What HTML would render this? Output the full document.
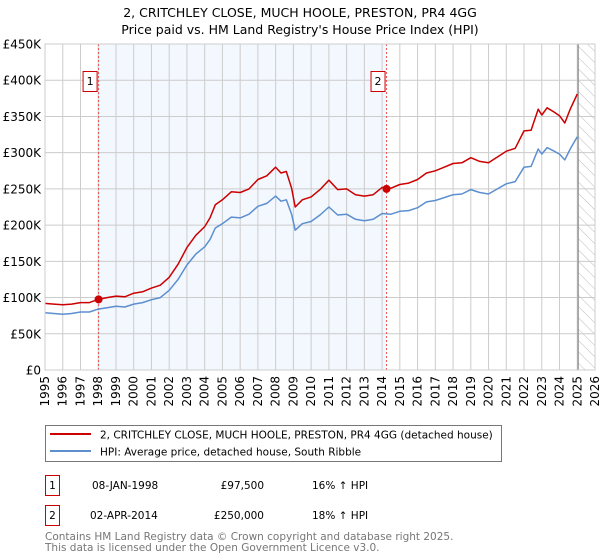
<!DOCTYPE html>
<html><head><meta charset="utf-8"><style>
html,body{margin:0;padding:0;background:#fff}
svg{display:block;font-family:"DejaVu Sans","Liberation Sans",sans-serif}
</style></head><body>
<svg id="chart" width="600" height="560" viewBox="0 0 600 560">
<defs>
<pattern id="hatch" width="8" height="8" patternUnits="userSpaceOnUse" patternTransform="rotate(-45)">
<line x1="0" y1="0" x2="0" y2="8" stroke="#bbb" stroke-width="1"/>
</pattern>
</defs>
<text x="300" y="17" text-anchor="middle" font-size="12.5" fill="#000">2, CRITCHLEY CLOSE, MUCH HOOLE, PRESTON, PR4 4GG</text>
<text x="300" y="34" text-anchor="middle" font-size="12.5" fill="#000">Price paid vs. HM Land Registry's House Price Index (HPI)</text>
<g id="plot"></g>
<g>
<rect x="45.5" y="425.5" width="456" height="36" fill="#fff" stroke="#777"/>
<line x1="50" y1="434" x2="91" y2="434" stroke="#cc0000" stroke-width="2"/>
<text x="100" y="438.5" font-size="10.5">2, CRITCHLEY CLOSE, MUCH HOOLE, PRESTON, PR4 4GG (detached house)</text>
<line x1="50" y1="451" x2="91" y2="451" stroke="#5b8fd0" stroke-width="2"/>
<text x="100" y="455.5" font-size="10.5">HPI: Average price, detached house, South Ribble</text>
</g>
<g font-size="10.5">
<rect x="45.5" y="475.5" width="14" height="20" fill="#fff" stroke="#cc0000"/>
<text x="52.5" y="489" text-anchor="middle">1</text>
<text x="92" y="489">08-JAN-1998</text>
<text x="264" y="489" text-anchor="end">£97,500</text>
<text x="312" y="489">16% ↑ HPI</text>
<rect x="45.5" y="505.5" width="14" height="20" fill="#fff" stroke="#cc0000"/>
<text x="52.5" y="519" text-anchor="middle">2</text>
<text x="90" y="519">02-APR-2014</text>
<text x="264" y="519" text-anchor="end">£250,000</text>
<text x="312" y="519">18% ↑ HPI</text>
</g>
<text x="45" y="540" font-size="10.5" fill="#777">Contains HM Land Registry data © Crown copyright and database right 2025.</text>
<text x="45" y="551" font-size="10.5" fill="#777">This data is licensed under the Open Government Licence v3.0.</text>
</svg>
<script>
const times = [1995,1995.5,1996,1996.5,1997,1997.5,1998,1998.5,1999,1999.5,2000,2000.5,2001,2001.5,2002,2002.5,2003,2003.5,2004,2004.3,2004.6,2005,2005.5,2006,2006.5,2007,2007.5,2008,2008.3,2008.6,2008.9,2009.1,2009.5,2010,2010.5,2011,2011.5,2012,2012.5,2013,2013.5,2014,2014.5,2015,2015.5,2016,2016.5,2017,2017.5,2018,2018.5,2019,2019.5,2020,2020.5,2021,2021.5,2022,2022.4,2022.8,2023,2023.3,2023.7,2024,2024.3,2024.6,2025];
const hpiValues = [79,78,77,78,80,80,84,86,88,87,91,93,97,100,110,125,145,160,170,180,196,202,211,210,215,226,230,240,233,235,215,193,202,205,214,225,214,215,208,206,208,216,215,219,220,224,232,234,238,242,243,249,245,243,250,257,260,280,281,305,298,307,302,298,290,305,322];
const propertyValues = [92,91,90,91,93,93,97.5,100,102,101,106,108,113,117,128,146,169,186,198,210,228,235,246,245,250,263,268,280,272,274,251,225,235,239,249,262,249,250,242,240,242,252,251,256,258,263,272,275,280,285,286,293,288,286,294,302,306,330,331,360,352,362,356,351,341,360,381];
const saleTimes = [1998.02, 2014.25];
const saleValues = [97.5, 250];
const saleLabels = ["1", "2"];
const yTicks = [0,50,100,150,200,250,300,350,400,450];
const yTickLabels = ["£0","£50K","£100K","£150K","£200K","£250K","£300K","£350K","£400K","£450K"];
const xTicks = [1995,1996,1997,1998,1999,2000,2001,2002,2003,2004,2005,2006,2007,2008,2009,2010,2011,2012,2013,2014,2015,2016,2017,2018,2019,2020,2021,2022,2023,2024,2025,2026];
const dataEnd = 2025.05;

const L=45,R=595,T=44,B=370;
const X0=1995,X1=2026,Y1=450;
const x = t => L + (t-X0)/(X1-X0)*(R-L);
const y = v => B - v/Y1*(B-T);
const NS="http://www.w3.org/2000/svg";
const plot=document.getElementById('plot');
function mk(tag, attrs, parent){const e=document.createElementNS(NS,tag);for(const k in attrs)e.setAttribute(k,attrs[k]);(parent||plot).appendChild(e);return e;}

let sh=mk('rect',{x:x(saleTimes[0]),y:T,width:x(saleTimes[1])-x(saleTimes[0]),height:B-T,fill:'#eef3fd',opacity:0.7});


let hz=mk('rect',{x:x(dataEnd),y:T,width:R-x(dataEnd),height:B-T,fill:'url(#hatch)'});


xTicks.forEach((t,i)=>{
  const g=mk('line',{x1:x(t),x2:x(t),y1:T,y2:B,stroke:'#cccccc','stroke-width':1});
  
  
  const lb=mk('text',{x:0,y:0,'font-size':12,'text-anchor':'end',transform:`translate(${x(t)+4},${B+6}) rotate(-90)`});
  lb.textContent=t;
  
  
});
yTicks.forEach((v,i)=>{
  const g=mk('line',{x1:L,x2:R,y1:y(v),y2:y(v),stroke:'#cccccc','stroke-width':1});
  
  
  const lb=mk('text',{x:L-4,y:y(v)+4.5,'font-size':12,'text-anchor':'end'});
  lb.textContent=yTickLabels[i];
  
  
});
let de=mk('line',{x1:x(dataEnd),x2:x(dataEnd),y1:T,y2:B,stroke:'#888','stroke-width':1.2});


saleTimes.forEach((t,i)=>{
  const l=mk('line',{x1:x(t),x2:x(t),y1:T,y2:B,stroke:'#ee5555','stroke-width':1,'stroke-dasharray':'2,2'});
  
  
  const bx=mk('rect',{x:x(t)-15.5,y:71.5,width:14,height:20,fill:'#fff',stroke:'#cc0000'});
  
  
  const tx=mk('text',{x:x(t)-8.5,y:85,'font-size':11,'text-anchor':'middle'});
  tx.textContent=saleLabels[i];
  
  
});
function path(vals){return vals.map((v,i)=>(i?'L':'M')+x(times[i]).toFixed(1)+','+y(v).toFixed(1)).join(' ');}
let hp=mk('path',{d:path(hpiValues),fill:'none',stroke:'#5b8fd0','stroke-width':1.5,'stroke-linejoin':'round'});


let pp=mk('path',{d:path(propertyValues),fill:'none',stroke:'#cc0000','stroke-width':1.5,'stroke-linejoin':'round'});


saleTimes.forEach((t,i)=>{
  const c=mk('circle',{cx:x(t),cy:y(saleValues[i]),r:4,fill:'#cc0000'});
  
  
});
let fr=mk('rect',{x:L,y:T,width:R-L,height:B-T,fill:'none',stroke:'#cccccc'});


</script>
</body></html>
